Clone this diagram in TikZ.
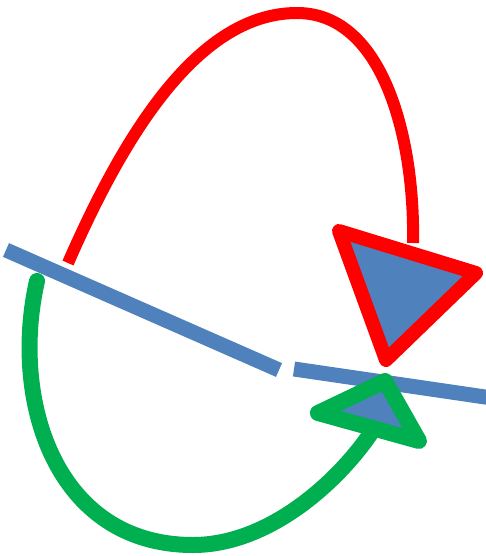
\documentclass[tikz,border=0pt]{standalone}
\usepackage{tikz}
\usetikzlibrary{calc}
\definecolor{rayblue}{HTML}{4F81BD}
\definecolor{rayred}{HTML}{FF0000}
\definecolor{raygreen}{HTML}{00B050}

\begin{document}
\begin{tikzpicture}[x=1pt,y=-1pt,
  mirror/.style={draw=rayblue, line width=15pt},
  tip/.style={fill=rayblue, line join=round}
]
  \useasboundingbox (0,0) rectangle (485,556);
  % bent line
  \coordinate (ma) at (6,250);
  \coordinate (mb) at (279,370);
  \coordinate (mc) at (294,369);
  \coordinate (md) at (492,398);
  \draw[mirror] (ma) -- (mb);
  \draw[mirror] (mc) -- (md);

  % red loop with its head
  \coordinate (rs) at (68,263);
  \coordinate (rtop) at (297,13);
  \coordinate (re) at (413,243);
  \draw[line width=12pt, rayred] (rs) .. controls (124,135) and (198,13) .. (rtop)
    .. controls (385,13) and (415,143) .. (re);
  \coordinate (ra) at (339,231);
  \coordinate (rb) at (476,273);
  \coordinate (rc) at (386,360);
  \draw[tip, line width=14pt, draw=rayred] (ra) -- (rb) -- (rc) -- cycle;

  % green loop with its head
  \coordinate (gs) at (37,281);
  \coordinate (gbot) at (193,545);
  \coordinate (ge) at (373,430);
  \draw[line width=16pt, raygreen, line cap=round] (gs) .. controls (10,400) and (55,545) .. (gbot)
    .. controls (270,545) and (340,480) .. (ge);
  \coordinate (ga) at (318,413);
  \coordinate (gb) at (385,381);
  \coordinate (gc) at (419,441);
  \draw[tip, line width=16pt, draw=raygreen] (ga) -- (gb) -- (gc) -- cycle;
\end{tikzpicture}
\end{document}
